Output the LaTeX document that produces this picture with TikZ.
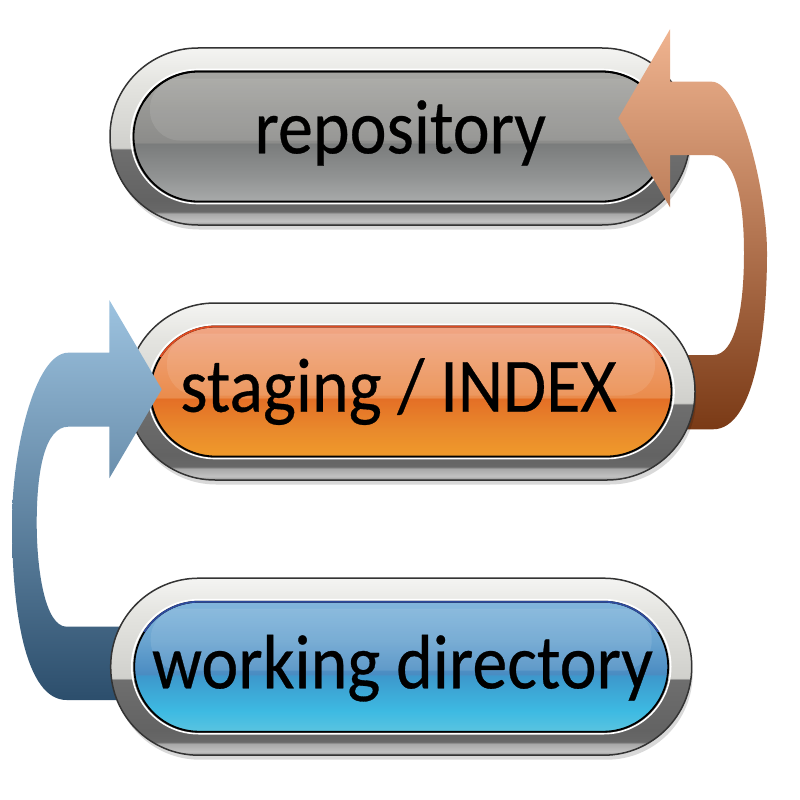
\documentclass[tikz,border=0pt]{standalone}
\usepackage{fontspec}
\setmainfont{Carlito}
\usepackage{graphicx}
% ring colours
\definecolor{rB}{HTML}{8C8C8C}
\definecolor{rC}{HTML}{C2C2C2}
\definecolor{rD}{HTML}{A8A8A8}
\definecolor{rE}{HTML}{686868}
\definecolor{rF}{HTML}{636363}
\definecolor{rG}{HTML}{6E6E6E}
\definecolor{rH}{HTML}{D0D0CC}
\definecolor{rI}{HTML}{E4E4E0}
\definecolor{rJ}{HTML}{F4F4F2}
% gray inner
\definecolor{gA}{HTML}{A8AAAA}
\definecolor{gB}{HTML}{909292}
\definecolor{gC}{HTML}{7A7C7C}
\definecolor{gD}{HTML}{8C8C8A}
\definecolor{gE}{HTML}{989895}
\definecolor{gF}{HTML}{A6A6A2}
% orange inner
\definecolor{oA}{HTML}{F09A2A}
\definecolor{oB}{HTML}{E98A2C}
\definecolor{oC}{HTML}{E46F26}
\definecolor{oD}{HTML}{EA8C4C}
\definecolor{oE}{HTML}{EE9A68}
\definecolor{oF}{HTML}{F0A585}
% blue inner
\definecolor{bA}{HTML}{5AC4E0}
\definecolor{bB}{HTML}{3DBAE2}
\definecolor{bC}{HTML}{3D98CC}
\definecolor{bD}{HTML}{4A8CC2}
\definecolor{bE}{HTML}{6AA4D0}
\definecolor{bF}{HTML}{82B6DC}
% outline tints
\definecolor{oLine}{HTML}{E04A20}
\definecolor{bLine}{HTML}{2D4A9E}
% arrows
\definecolor{arOTop}{HTML}{F0B490}
\definecolor{arOMid}{HTML}{C8865C}
\definecolor{arOBot}{HTML}{7A3A16}
\definecolor{arBTop}{HTML}{9DC3E0}
\definecolor{arBMid}{HTML}{6189A8}
\definecolor{arBBot}{HTML}{2C4E6C}

\pgfdeclareverticalshading{ringshade}{100bp}{color(0bp)=(rB); color(25bp)=(rB); color(26bp)=(rC); color(28.2bp)=(rD); color(28.8bp)=(rE); color(32bp)=(rF); color(46.3bp)=(rG); color(46.8bp)=(rH); color(65bp)=(rI); color(75bp)=(rJ); color(100bp)=(rJ)}
\pgfdeclareverticalshading{grayin}{100bp}{color(0bp)=(gA); color(25bp)=(gA); color(35bp)=(gB); color(47.2bp)=(gC); color(47.8bp)=(gD); color(62bp)=(gE); color(75bp)=(gF); color(100bp)=(gF)}
\pgfdeclareverticalshading{orangein}{100bp}{color(0bp)=(oA); color(25bp)=(oA); color(35bp)=(oB); color(47.2bp)=(oC); color(47.8bp)=(oD); color(62bp)=(oE); color(75bp)=(oF); color(100bp)=(oF)}
\pgfdeclareverticalshading{bluein}{100bp}{color(0bp)=(bA); color(25bp)=(bA); color(33bp)=(bB); color(46.5bp)=(bC); color(47.2bp)=(bD); color(60bp)=(bE); color(75bp)=(bF); color(100bp)=(bF)}

% #1 left x, #2 right x, #3 centre y, #4 inner shading, #5 top outline colour
\newcommand\glossbtn[5]{%
  \fill[black, opacity=0.15, rounded corners=86] ({#1+3},{#3-84}) rectangle ({#2+1},{#3+93});
  \shade[shading=ringshade, draw=black!80, line width=1.5, rounded corners=88] ({#1},{#3-88.5}) rectangle ({#2},{#3+88.5});
  \draw[white, line width=1.6, rounded corners=67] ({#1+21},{#3-67}) rectangle ({#2-21},{#3+67});
  \shade[shading=#4, draw=black, line width=1.8, rounded corners=65] ({#1+23.5},{#3-65}) rectangle ({#2-23.5},{#3+65});
  \begin{scope}
    \clip ({#1},{#3-92}) rectangle ({#2},{#3-35});
    \draw[#5, line width=1.8, rounded corners=65] ({#1+23.5},{#3-65}) rectangle ({#2-23.5},{#3+65});
  \end{scope}
  \fill[white, fill opacity=0.1, rounded corners=30] ({#1+40},{#3-58}) rectangle ({#2-40},{#3+4});
}

\tikzset{
  btntext/.style={anchor=base, inner sep=0pt, text=black, font=\fontsize{70}{80}\selectfont\addfontfeature{FakeBold=0.4}},
  orangearrow/.style={top color=arOTop, middle color=arOMid, bottom color=arOBot},
  bluearrow/.style={top color=arBTop, middle color=arBMid, bottom color=arBBot}
}

\begin{document}
\begin{tikzpicture}[x=1pt,y=-1pt]
  \useasboundingbox (0,0) rectangle (800,800);
  \fill[white] (0,0) rectangle (800,800);

  % repository button
  \glossbtn{110}{690}{136.5}{grayin}{black}
  \node[btntext] (repo) at (400.3,153.3) {\scalebox{1}[1.1]{repository}};

  % orange arrow: staging -> repository
  \coordinate (repoTip) at (618.3,118.3);
  \shade[orangearrow]
    (670,29.3) -- (repoTip) -- (670,207.3) -- (670,155) -- (710,155)
    .. controls (732,155) and (744,190) .. (744,253)
    .. controls (744,310) and (735,355) .. (713.3,355)
    -- (680,355) -- (680,429.3) -- (713,429.3)
    .. controls (755,429.3) and (767,330) .. (767,253)
    .. controls (767,190) and (740,81.7) .. (711.7,81.7)
    -- (670,81.7) -- cycle;

  % staging button
  \glossbtn{127}{695}{391.5}{orangein}{oLine}
  \node[btntext] (stage) at (398.5,411.7) {\scalebox{1}[1.1]{staging / INDEX}};

  % blue arrow: working directory -> staging
  \coordinate (stageTip) at (161.7,389.3);
  \shade[bluearrow]
    (109.3,300) -- (stageTip) -- (109.3,478.3) -- (109.3,426.7) -- (68.3,426.7)
    .. controls (45,426.7) and (36.7,470) .. (36.7,523)
    .. controls (36.7,570) and (45,626.7) .. (66.7,626.7)
    -- (125,626.7) -- (125,700) -- (66.7,700)
    .. controls (25,700) and (12,610) .. (12,523)
    .. controls (12,450) and (35,352.7) .. (68.3,352.7)
    -- (109.3,352.7) -- cycle;

  % working directory button
  \glossbtn{110.7}{691.7}{666.7}{bluein}{bLine}
  \node[btntext] (work) at (402.5,688.3) {\scalebox{1}[1.1]{working directory}};
\end{tikzpicture}
\end{document}
